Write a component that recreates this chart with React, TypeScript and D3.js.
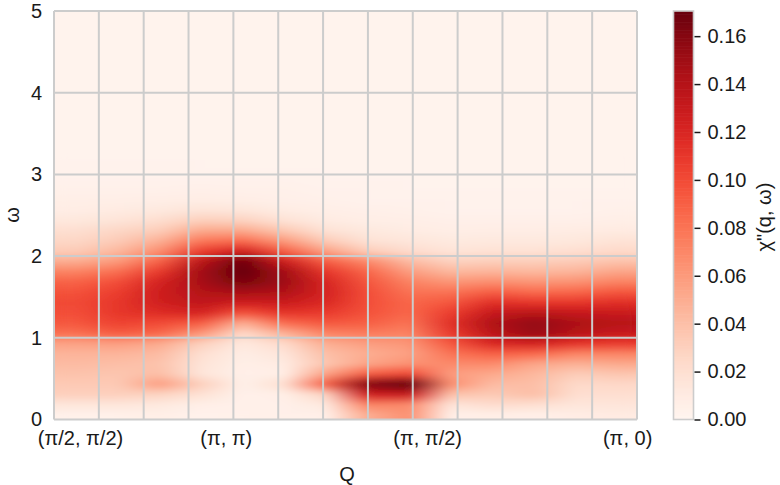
import React, {useEffect, useRef} from 'react';
import {select, scaleLinear, scaleBand, scaleSequential, interpolateReds, axisLeft, axisBottom, axisRight, range} from 'd3';

// omega at the centre of each row of the map, bottom to top
const omegaRows = [0.0625, 0.1875, 0.3125, 0.4375, 0.5625, 0.6875, 0.8125, 0.9375, 1.0625, 1.1875, 1.3125, 1.4375, 1.5625, 1.6875, 1.8125, 1.9375, 2.0625, 2.1875, 2.3125, 2.4375, 2.5625, 2.6875, 2.8125, 2.9375, 3.0625, 3.1875];
const qIndex = [0, 1, 2, 3, 4, 5, 6, 7, 8, 9, 10, 11, 12, 13];
const background = 0.002; // above the last row

// chi'' per Q column, values follow omegaRows
const chi = [
    [.004, .014, .030, .034, .038, .042, .046, .056, .082, .094, .098, .100, .096, .088, .072, .050, .033, .026, .020, .013, .008, .006, .004, .003, .003, .002],
    [.004, .014, .030, .034, .036, .040, .046, .058, .092, .104, .110, .110, .106, .098, .082, .060, .044, .033, .026, .016, .010, .006, .004, .003, .003, .002],
    [.006, .012, .028, .058, .040, .038, .042, .052, .086, .100, .116, .124, .126, .122, .108, .088, .066, .048, .032, .021, .012, .007, .004, .003, .003, .002],
    [.003, .006, .018, .030, .014, .016, .020, .030, .062, .092, .122, .134, .140, .146, .148, .136, .106, .078, .052, .031, .016, .008, .005, .003, .002, .002],
    [.004, .004, .004, .005, .005, .006, .008, .012, .024, .050, .096, .126, .146, .164, .178, .168, .124, .084, .052, .029, .014, .007, .004, .003, .002, .002],
    [.005, .005, .006, .020, .006, .010, .015, .024, .048, .084, .112, .128, .142, .150, .148, .126, .090, .060, .035, .018, .009, .005, .004, .003, .002, .002],
    [.005, .012, .028, .090, .055, .036, .040, .050, .072, .094, .108, .118, .122, .120, .110, .090, .056, .033, .018, .010, .006, .004, .003, .002, .002, .002],
    [.050, .072, .125, .160, .090, .054, .050, .058, .076, .090, .096, .098, .098, .094, .086, .068, .032, .018, .012, .007, .005, .003, .003, .002, .002, .002],
    [.065, .068, .130, .176, .100, .064, .056, .062, .072, .080, .086, .086, .080, .072, .058, .042, .022, .014, .009, .006, .004, .003, .002, .002, .002, .002],
    [.005, .015, .038, .065, .058, .068, .080, .094, .108, .114, .106, .094, .080, .062, .044, .029, .016, .011, .007, .005, .003, .003, .002, .002, .002, .002],
    [.006, .022, .034, .042, .052, .068, .090, .120, .136, .142, .130, .114, .090, .066, .046, .031, .018, .012, .008, .005, .003, .003, .002, .002, .002, .002],
    [.005, .020, .040, .040, .044, .054, .086, .124, .152, .154, .136, .110, .084, .062, .044, .031, .018, .012, .008, .005, .003, .003, .002, .002, .002, .002],
    [.008, .014, .020, .024, .032, .048, .072, .112, .138, .144, .130, .110, .086, .064, .046, .033, .020, .013, .009, .005, .003, .003, .002, .002, .002, .002],
    [.010, .015, .020, .025, .036, .052, .072, .108, .130, .138, .128, .114, .094, .072, .054, .038, .024, .017, .010, .006, .004, .003, .002, .002, .002, .002],
];

const omegaTicks = [0, 1, 2, 3, 4, 5];
const chiTicks = [0, 0.02, 0.04, 0.06, 0.08, 0.10, 0.12, 0.14, 0.16];
const qLabels = ['(π/2, π/2)', '(π, π)', '(π, π/2)', '(π, 0)'];
const qLabelPositions = [0.58, 3.83, 8.32, 12.78]; // in grid units
const gridTicks = [0, 1, 2, 3, 4, 5, 6, 7, 8, 9, 10, 11, 12, 13];
const chiMax = 0.1705;

const font = '"Liberation Sans", Arial, sans-serif';
const gray = '#cccccc';
const ink = '#1a1a1a';

const App = (): JSX.Element => {
    const svgRef = useRef(null);

    useEffect(() => {
        const svg = select(svgRef.current);
        svg.selectAll('*').remove();

        const left = 54, right = 637, top = 11, bottom = 419.5;
        const xGrid = scaleLinear().domain([0, 13]).range([left, right]);
        const yScale = scaleLinear().domain([0, 5]).range([bottom, top]);
        const color = scaleSequential(interpolateReds).domain([0, chiMax]);

        const qBand = scaleBand().domain(qIndex.map(String)).range([left, right]);
        const rowStep = 0.125;

        // the map is a small bitmap, the browser smooths it when scaling up
        const canvas = document.createElement('canvas');
        canvas.width = qIndex.length;
        canvas.height = omegaRows.length;
        const ctx = canvas.getContext('2d');
        qIndex.forEach((q) => {
            omegaRows.forEach((w, r) => {
                ctx.fillStyle = color(chi[q][r]);
                ctx.fillRect(q, omegaRows.length - 1 - r, 1, 1);
            });
        });

        const defs = svg.append('defs');
        defs.append('filter').attr('id', 'soften')
            .attr('x', '-5%').attr('y', '-5%').attr('width', '110%').attr('height', '110%')
            .append('feGaussianBlur').attr('stdDeviation', '7 2');
        defs.append('clipPath').attr('id', 'plot-area').append('rect')
            .attr('x', left).attr('y', top)
            .attr('width', right - left).attr('height', bottom - top);

        svg.append('rect')
            .attr('x', left).attr('y', top)
            .attr('width', right - left).attr('height', bottom - top)
            .attr('fill', color(background));

        // sharp copy underneath so the blurred one does not fade at the frame
        const mapTop = yScale(omegaRows[omegaRows.length - 1] + rowStep / 2);
        const mapGroup = svg.append('g').attr('clip-path', 'url(#plot-area)');
        [false, true].forEach((soft) => {
            const img = mapGroup.append('image')
                .attr('href', canvas.toDataURL())
                .attr('x', qBand('0')).attr('y', mapTop)
                .attr('width', qBand.bandwidth() * qIndex.length).attr('height', bottom - mapTop)
                .attr('preserveAspectRatio', 'none');
            if (soft) img.attr('filter', 'url(#soften)');
        });

        // grid and frame
        const grid = svg.append('g').attr('stroke', gray).attr('stroke-width', 2);
        gridTicks.forEach((t) => {
            grid.append('line').attr('x1', xGrid(t)).attr('x2', xGrid(t)).attr('y1', top).attr('y2', bottom);
        });
        omegaTicks.forEach((t) => {
            grid.append('line').attr('x1', left).attr('x2', right).attr('y1', yScale(t)).attr('y2', yScale(t));
        });

        // y axis
        const yAxis = svg.append('g').attr('transform', `translate(${left},0)`)
            .call(axisLeft(yScale).tickValues(omegaTicks).tickSize(0).tickPadding(12).tickFormat((d) => String(d)));
        yAxis.select('.domain').remove();
        yAxis.selectAll('text').attr('font-size', 20).attr('font-family', font).attr('fill', ink);

        // x labels sit at their own positions, not on the grid lines
        const xAxis = svg.append('g').attr('transform', `translate(0,${bottom})`)
            .call(axisBottom(xGrid).tickValues(qLabelPositions).tickSize(0).tickPadding(11)
                .tickFormat((d, i) => qLabels[i]));
        xAxis.select('.domain').remove();
        xAxis.selectAll('text').attr('font-size', 20).attr('font-family', font).attr('fill', ink);

        svg.append('text').attr('x', 347).attr('y', 481).attr('text-anchor', 'middle')
            .attr('font-size', 20).attr('font-family', font).attr('fill', ink).text('Q');
        svg.append('text').attr('transform', 'translate(18.5,215) rotate(-90)').attr('text-anchor', 'middle')
            .attr('font-size', 20).attr('font-family', font).attr('fill', ink).text('ω');

        // colorbar
        const barLeft = 673.5, barRight = 693.5;
        const chiScale = scaleLinear().domain([0, chiMax]).range([bottom, top]);
        const steps = range(0, 256).map((i) => (i / 256) * chiMax);
        svg.append('g').selectAll('rect').data(steps).join('rect')
            .attr('x', barLeft).attr('width', barRight - barLeft)
            .attr('y', (d) => chiScale(d + chiMax / 256))
            .attr('height', (bottom - top) / 256 + 0.6)
            .attr('fill', (d) => color(d));
        svg.append('rect').attr('x', barLeft).attr('y', top)
            .attr('width', barRight - barLeft).attr('height', bottom - top)
            .attr('fill', 'none').attr('stroke', gray).attr('stroke-width', 1.6);

        const cAxis = svg.append('g').attr('transform', `translate(${barRight + 1},0)`)
            .call(axisRight(chiScale).tickValues(chiTicks).tickSize(6).tickPadding(7).tickFormat((d) => Number(d).toFixed(2)));
        cAxis.select('.domain').remove();
        cAxis.selectAll('line').attr('stroke', ink).attr('stroke-width', 1.5);
        cAxis.selectAll('text').attr('font-size', 20).attr('font-family', font).attr('fill', ink);

        svg.append('text').attr('transform', 'translate(771,217) rotate(-90)').attr('text-anchor', 'middle')
            .attr('font-size', 20).attr('font-family', font).attr('fill', ink).text('χ"(q, ω)');
    }, []);

    return (
        <svg
            ref={svgRef}
            xmlns="http://www.w3.org/2000/svg"
            width="780"
            height="485"
            viewBox="0 0 780 485"
            style={{position: 'absolute', left: 0, top: 0, background: '#fff'}}
        />
    );
};

export default App;
